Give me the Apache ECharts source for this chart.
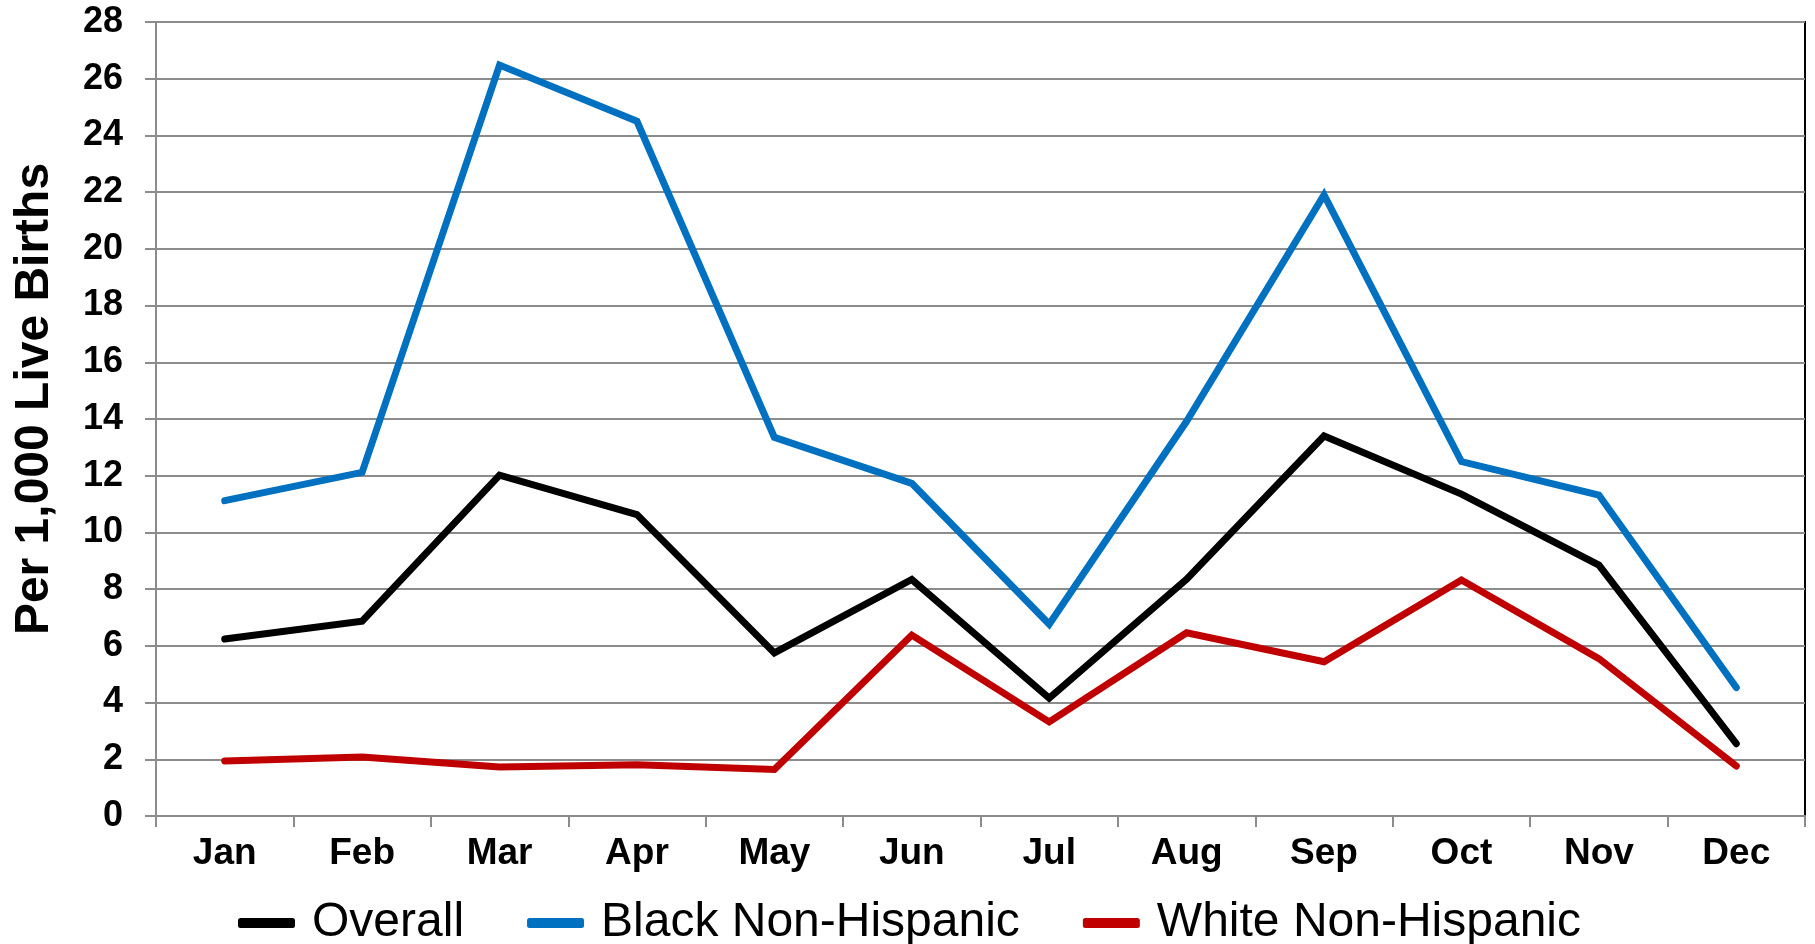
<!DOCTYPE html>
<html>
<head>
<meta charset="utf-8">
<script src="https://cdn.jsdelivr.net/npm/echarts@6/dist/echarts.min.js"></script>
<style>
  html, body { margin: 0; padding: 0; background: #fff; }
  #chart { width: 1815px; height: 944px; }
</style>
</head>
<body>
<div id="chart"></div>
<script>
const months = ['Jan', 'Feb', 'Mar', 'Apr', 'May', 'Jun', 'Jul', 'Aug', 'Sep', 'Oct', 'Nov', 'Dec']
const overall = [6.24, 6.87, 12.02, 10.63, 5.75, 8.34, 4.16, 8.35, 13.4, 11.35, 8.85, 2.55]
const blackNonHispanic = [11.12, 12.12, 26.48, 24.5, 13.35, 11.73, 6.76, 13.92, 21.9, 12.5, 11.32, 4.53]
const whiteNonHispanic = [1.94, 2.08, 1.73, 1.81, 1.64, 6.38, 3.32, 6.46, 5.44, 8.32, 5.55, 1.76]

const font = '"Liberation Sans", Arial, sans-serif'
const gray = '#8c8c8c'

const chart = echarts.init(document.getElementById('chart'), null, { renderer: 'canvas' })

function line(name, data, color) {
  return {
    name,
    type: 'line',
    data,
    symbol: 'none',
    lineStyle: { width: 7, color, join: 'miter', cap: 'round' },
    itemStyle: { color },
  }
}

chart.setOption({
  animation: false,
  backgroundColor: '#fff',
  textStyle: { fontFamily: font },
  grid: {
    left: 156, right: 10, top: 22, bottom: 128,
    show: true, borderColor: '#000', borderWidth: 2, backgroundColor: 'transparent',
  },
  legend: {
    left: 233,
    top: 894,
    icon: 'roundRect',
    itemWidth: 57,
    itemHeight: 10,
    itemGap: 63,
    textStyle: { fontFamily: font, fontSize: 48, color: '#000', padding: [0, 0, 0, 12] },
    data: ['Overall', 'Black Non-Hispanic', 'White Non-Hispanic'],
  },
  xAxis: {
    type: 'category',
    data: months,
    boundaryGap: true,
    axisLine: { lineStyle: { color: gray, width: 2 } },
    axisTick: { show: true, length: 11, lineStyle: { color: gray, width: 2 } },
    axisLabel: { color: '#000', fontFamily: font, fontWeight: 'bold', fontSize: 37, margin: 19 },
    splitLine: { show: false },
  },
  yAxis: {
    type: 'value',
    min: 0,
    max: 28,
    interval: 2,
    name: 'Per 1,000 Live Births',
    nameLocation: 'middle',
    nameGap: 97,
    nameTextStyle: {
      color: '#000', fontFamily: font, fontWeight: 'bold', fontSize: 48,
      padding: [0, 0, 0, 40],
    },
    axisLine: { show: true, lineStyle: { color: gray, width: 2 } },
    axisTick: { show: true, length: 11, lineStyle: { color: gray, width: 2 } },
    axisLabel: { color: '#000', fontFamily: font, fontWeight: 'bold', fontSize: 36, margin: 33 },
    splitLine: { lineStyle: { color: gray, width: 2 } },
  },
  series: [
    line('Overall', overall, '#000000'),
    line('Black Non-Hispanic', blackNonHispanic, '#0070c0'),
    line('White Non-Hispanic', whiteNonHispanic, '#c00000'),
  ],
})
</script>
</body>
</html>
